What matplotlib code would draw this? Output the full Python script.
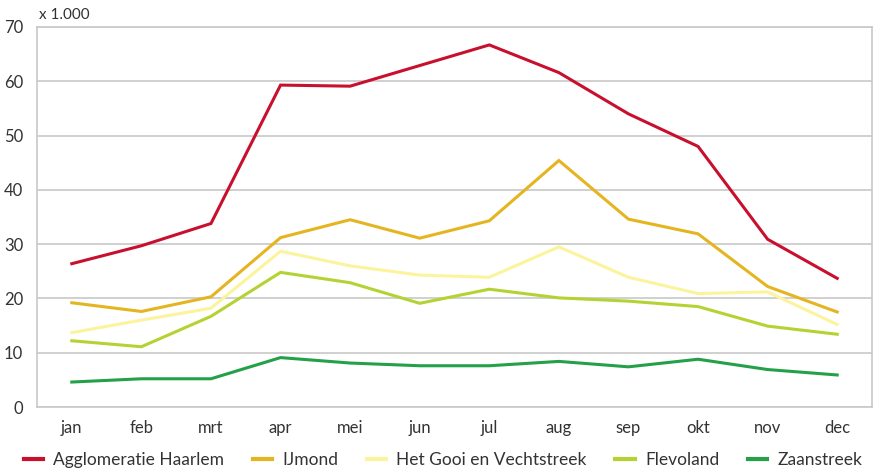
import matplotlib
matplotlib.use('Agg')
import matplotlib.pyplot as plt

# ── Data (x 1.000) ──────────────────────────────────────────────────
MONTHS = ['jan', 'feb', 'mrt', 'apr', 'mei', 'jun',
          'jul', 'aug', 'sep', 'okt', 'nov', 'dec']

HAARLEM    = [26.4, 29.7, 33.8, 59.3, 59.1, 62.9, 66.7, 61.6, 54.0, 48.0, 30.9, 23.7]
IJMOND     = [19.2, 17.6, 20.3, 31.2, 34.5, 31.1, 34.3, 45.4, 34.6, 31.9, 22.2, 17.5]
GOOI       = [13.7, 16.0, 18.2, 28.7, 26.0, 24.3, 23.9, 29.5, 23.9, 20.9, 21.2, 15.2]
FLEVOLAND  = [12.2, 11.1, 16.7, 24.8, 22.9, 19.1, 21.7, 20.1, 19.5, 18.5, 14.9, 13.4]
ZAANSTREEK = [4.6, 5.2, 5.2, 9.1, 8.1, 7.6, 7.6, 8.4, 7.4, 8.8, 6.9, 5.9]

SERIES = [
    ('Agglomeratie Haarlem',     HAARLEM,    '#C8102E'),
    ('IJmond',                   IJMOND,     '#E5B521'),
    ('Het Gooi en Vechtstreek',  GOOI,       '#FBF49C'),
    ('Flevoland',                FLEVOLAND,  '#B4D333'),
    ('Zaanstreek',               ZAANSTREEK, '#23A048'),
]

plt.rcParams['font.family'] = ['Lato', 'DejaVu Sans']
TEXT = '#333333'
GRID = '#C8C8C8'

fig = plt.figure(figsize=(8.77, 4.72), dpi=100, facecolor='white')
ax = fig.add_axes([0.0422, 0.1377, 0.9521, 0.8051])

x = list(range(len(MONTHS)))
for label, vals, col in SERIES:
    ax.plot(x, vals, color=col, lw=2.2, label=label, solid_joinstyle='miter')

ax.set_xlim(-0.5, len(MONTHS) - 0.5)
ax.set_ylim(0, 70)
ax.set_yticks(range(0, 71, 10))
ax.set_xticks(x)
ax.set_xticklabels(MONTHS)
ax.tick_params(axis='both', length=0, labelsize=12, colors=TEXT)
ax.tick_params(axis='x', pad=9)
ax.tick_params(axis='y', pad=10)
ax.grid(axis='y', color=GRID, lw=1.2)
ax.set_axisbelow(True)
for s in ax.spines.values():
    s.set_color(GRID)
    s.set_linewidth(1.2)

fig.text(0.045, 0.968, 'x 1.000', fontsize=11, color=TEXT, ha='left', va='center')

leg = fig.legend(loc='lower center', bbox_to_anchor=(0.505, -0.025), ncol=5,
                 frameon=False, fontsize=12.5, handlelength=1.1, handletextpad=0.6,
                 columnspacing=1.65, labelcolor=TEXT)
for h in leg.get_lines():
    h.set_linewidth(3)

fig.savefig('out.png', dpi=100, facecolor='white')
